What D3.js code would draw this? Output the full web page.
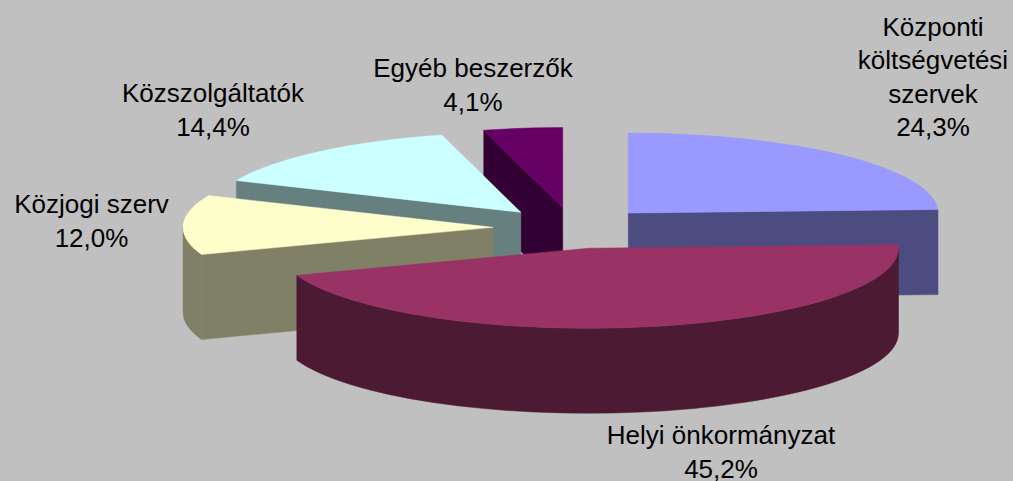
<!DOCTYPE html>
<html>
<head>
  <meta charset="UTF-8">
  <title>Beszerzők megoszlása</title>
  <script src="https://d3js.org/d3.v7.min.js"></script>
  <style>
    body { margin: 0; background: #c0c0c0; }
    svg { display: block; }
    .label { font-family: "Liberation Sans", Arial, sans-serif; font-size: 26px; fill: #000; }
  </style>
</head>
<body>
  <div id="chart"></div>
  <script>
    // data
    var categories = ["Központi költségvetési szervek", "Helyi önkormányzat", "Közjogi szerv", "Közszolgáltatók", "Egyéb beszerzők"];
    var values = [24.3, 45.2, 12.0, 14.4, 4.1];
    var labelLines = [
      ["Központi", "költségvetési", "szervek"],
      ["Helyi önkormányzat"],
      ["Közjogi szerv"],
      ["Közszolgáltatók"],
      ["Egyéb beszerzők"]
    ];
    var topColors = ["#9999ff", "#993366", "#ffffcc", "#ccffff", "#660066"];
    var sideColors = ["#4c4c80", "#4d1a33", "#808066", "#668080", "#330033"];

    // layout
    var width = 1013, height = 481;
    var cx = 573, cy = 228, rx = 310, ry = 80, depth = 85, explode = 80;
    var labelPos = [[933, 35.5], [721, 444], [91.5, 213], [213, 102], [473, 77]];
    var lineGap = 33.5;

    var svg = d3.select("#chart").append("svg")
      .attr("width", width)
      .attr("height", height);

    svg.append("rect").attr("width", width).attr("height", height).attr("fill", "#c0c0c0");

    var pie = d3.pie().sort(null).value(function (d) { return d; });
    var arcs = pie(values);

    function rim(c, a, dy) {
      return [c[0] + rx * Math.sin(a), c[1] - ry * Math.cos(a) + (dy || 0)];
    }

    // each slice pushed out along its middle angle
    var slices = arcs.map(function (d, i) {
      var m = (d.startAngle + d.endAngle) / 2;
      var c = [cx + explode * Math.sin(m), cy - explode * (ry / rx) * Math.cos(m)];
      return { i: i, a0: d.startAngle, a1: d.endAngle, c: c };
    });

    function topPath(s) {
      var p0 = rim(s.c, s.a0), p1 = rim(s.c, s.a1);
      var large = (s.a1 - s.a0) > Math.PI ? 1 : 0;
      return "M" + s.c[0] + "," + s.c[1] + "L" + p0[0] + "," + p0[1] +
        "A" + rx + "," + ry + " 0 " + large + " 1 " + p1[0] + "," + p1[1] + "Z";
    }

    function wallPath(s) {
      var b0 = Math.max(s.a0, Math.PI / 2), b1 = Math.min(s.a1, Math.PI * 1.5);
      if (b1 <= b0) return null;
      var p0 = rim(s.c, b0), p1 = rim(s.c, b1);
      var q0 = rim(s.c, b0, depth), q1 = rim(s.c, b1, depth);
      var large = (b1 - b0) > Math.PI ? 1 : 0;
      return "M" + p0[0] + "," + p0[1] +
        "A" + rx + "," + ry + " 0 " + large + " 1 " + p1[0] + "," + p1[1] +
        "L" + q1[0] + "," + q1[1] +
        "A" + rx + "," + ry + " 0 " + large + " 0 " + q0[0] + "," + q0[1] + "Z";
    }

    function cutPath(s, a) {
      var p = rim(s.c, a), q = rim(s.c, a, depth);
      return "M" + s.c[0] + "," + s.c[1] + "L" + p[0] + "," + p[1] +
        "L" + q[0] + "," + q[1] + "L" + s.c[0] + "," + (s.c[1] + depth) + "Z";
    }

    // back to front
    var order = slices.slice().sort(function (a, b) { return a.c[1] - b.c[1]; });

    order.forEach(function (s) {
      var g = svg.append("g");
      var side = sideColors[s.i];
      if (Math.sin(s.a0) < -1e-6) {
        g.append("path").attr("d", cutPath(s, s.a0)).attr("fill", side).attr("stroke", side).attr("stroke-width", 0.5);
      }
      if (Math.sin(s.a1) > 1e-6) {
        g.append("path").attr("d", cutPath(s, s.a1)).attr("fill", side).attr("stroke", side).attr("stroke-width", 0.5);
      }
      var w = wallPath(s);
      if (w) g.append("path").attr("d", w).attr("fill", side).attr("stroke", side).attr("stroke-width", 0.5);
      g.append("path").attr("d", topPath(s)).attr("fill", topColors[s.i]).attr("stroke", topColors[s.i]).attr("stroke-width", 0.5);
    });

    // labels
    var fmt = function (v) { return v.toFixed(1).replace(".", ",") + "%"; };
    categories.forEach(function (name, i) {
      var lines = labelLines[i].concat([fmt(values[i])]);
      var t = svg.append("text").attr("class", "label").attr("text-anchor", "middle");
      lines.forEach(function (l, j) {
        t.append("tspan").attr("x", labelPos[i][0]).attr("y", labelPos[i][1] + j * lineGap).text(l);
      });
    });
  </script>
</body>
</html>
